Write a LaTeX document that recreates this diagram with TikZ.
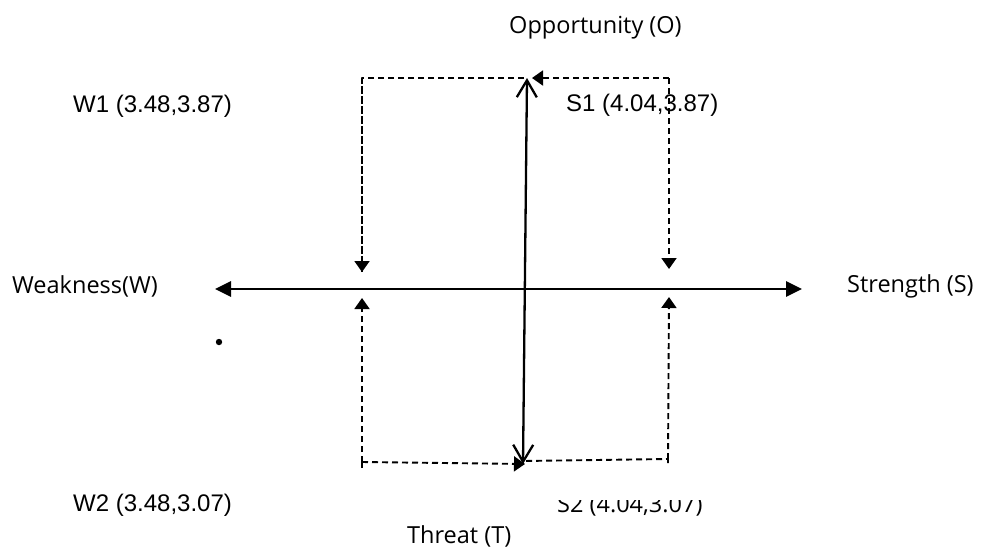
\documentclass[tikz,border=0pt]{standalone}
\usepackage{fontspec}
\setmainfont{Open Sans}
\newfontfamily\arialfont{Liberation Sans}
\usetikzlibrary{arrows.meta}
\begin{document}
\begin{tikzpicture}[x=1pt,y=-1pt,line join=round,
  axis/.style={line width=2.8pt,-{Triangle[length=16pt,width=15pt]}},
  vaxis/.style={line width=2.3pt,{Straight Barb[length=17pt,width=20pt]}-{Straight Barb[length=17pt,width=20pt]}},
  guide/.style={line width=1.9pt,dash pattern=on 6pt off 4pt},
  guidetip/.style={guide,-{Triangle[length=11pt,width=15pt]}},
  lbl/.style={font=\fontsize{23.5}{27}\selectfont,anchor=base west,inner sep=0pt},
  val/.style={font=\arialfont\fontsize{24}{28}\selectfont,anchor=base west,inner sep=0pt}]
\useasboundingbox (0,0) rectangle (982,550);
\coordinate (O) at (525,289);
\coordinate (L) at (215,289);
\coordinate (R) at (802,289);
\coordinate (T) at (527,78);
\coordinate (B) at (523,464);
\coordinate (W1) at (362,78);
\coordinate (S1) at (669,78);
\coordinate (Ot) at (532,78);
\coordinate (W1a) at (362,272);
\coordinate (S1a) at (669,269);
\coordinate (W2a) at (362,298);
\coordinate (S2a) at (669,297);
\coordinate (W2) at (362,462);
\coordinate (W2e) at (362,468);
\coordinate (S2) at (668,459);
\coordinate (S2e) at (668,463);
\coordinate (Tt) at (525,464);
\coordinate (Bm) at (523,461);
\draw[axis] (O) -- (L);
\draw[axis] (O) -- (R);
\draw[vaxis] (B) -- (T);
\draw[guide] (W1a) -- (W1) -- (T);
\draw[guidetip] (W1) -- (W1a);
\draw[guidetip] (S1) -- (Ot);
\draw[guidetip] (S1) -- (S1a);
\draw[guide] (W2e) -- (W2);
\draw[guidetip] (W2) -- (W2a);
\draw[guidetip] (W2) -- (Tt);
\draw[guide] (S2e) -- (S2) -- (Bm);
\draw[guidetip] (S2) -- (S2a);
\fill (219,342) circle (3.2pt);
\node[lbl] (opp) at (509,33) {Opportunity (O)};
\node[lbl] (wk) at (12,293) {Weakness(W)};
\node[lbl] (st) at (847,292) {Strength (S)};
\node[lbl] (th) at (407,543) {Threat (T)};
\node[val] (w1) at (73,112) {W1 (3.48,3.87)};
\node[val] (s1) at (566,111) {S1 (4.04,3.87)};
\node[val] (w2) at (73,511) {W2 (3.48,3.07)};
\begin{scope}
\clip (540,500.5) rectangle (740,525);
\node[lbl] (s2) at (557,512) {S2 (4.04,3.07)};
\end{scope}
\end{tikzpicture}
\end{document}
